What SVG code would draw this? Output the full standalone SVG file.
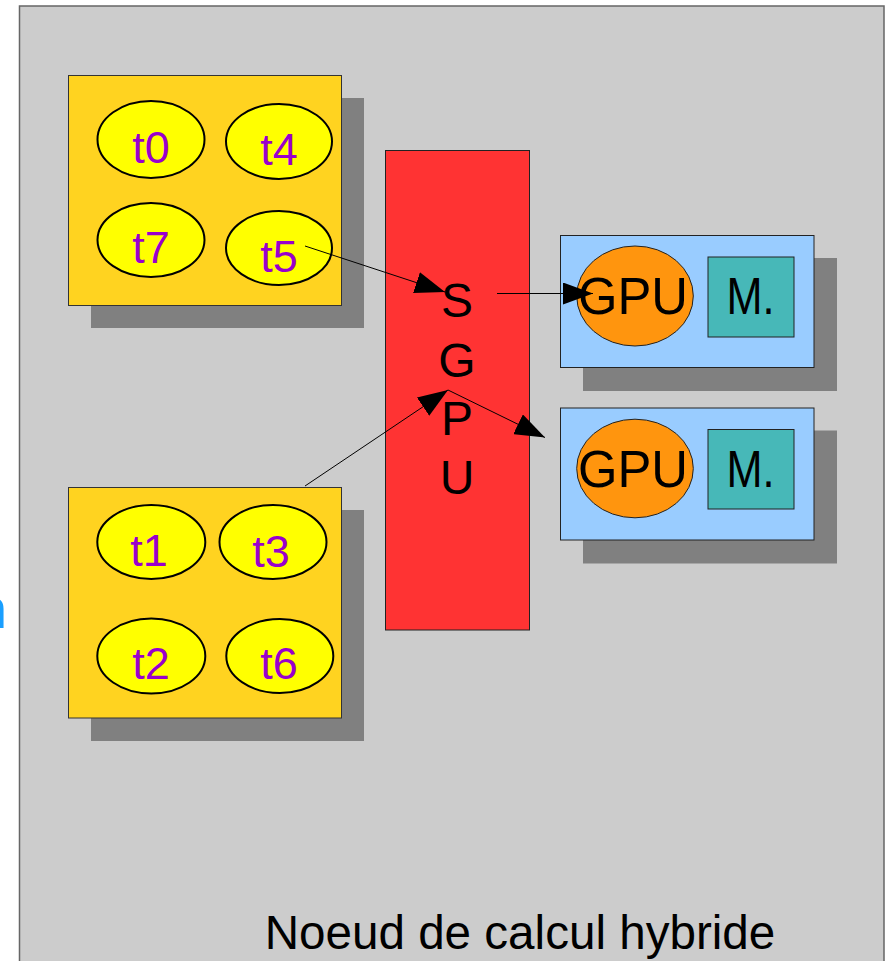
<svg xmlns="http://www.w3.org/2000/svg" width="885" height="961" viewBox="0 0 885 961">
<style>
text{font-family:"Liberation Sans",Arial,sans-serif}
.shadow{fill:#808080}
.ybox{fill:#ffd320;stroke:#333;stroke-width:1}
.task{fill:#ffff00;stroke:#000;stroke-width:2}
.tl{fill:#9900cc;font-size:45px;text-anchor:middle}
.bbox{fill:#99ccff;stroke:#222;stroke-width:1}
.gpu{fill:#ff950e;stroke:#222;stroke-width:1}
.mem{fill:#47b8b8;stroke:#222;stroke-width:1}
.bl{fill:#000;font-size:48px;text-anchor:middle}
.big{font-size:52px}
.conn{stroke:#000;stroke-width:1;fill:none;marker-end:url(#ah)}
</style>
<defs>
<marker id="ah" markerUnits="userSpaceOnUse" markerWidth="32" markerHeight="22" refX="30" refY="11" orient="auto">
<path d="M0,0 L30,11 L0,22 Z" fill="#000"/>
</marker>
</defs>
<rect x="19.5" y="6" width="864.5" height="970" fill="#cccccc" stroke="#666" stroke-width="1.5"/>
<text x="-24" y="628" font-size="56" fill="#1a9fff">n</text>
<g id="cpu1">
<rect class="shadow" x="91" y="98" width="273" height="230"/>
<rect class="ybox" x="68.5" y="75.5" width="273" height="230"/>
<ellipse class="task" cx="151" cy="139.5" rx="53.5" ry="38.5"/>
<text class="tl" x="151" y="163">t0</text>
<ellipse class="task" cx="279" cy="141.5" rx="53" ry="37.5"/>
<text class="tl" x="279" y="165">t4</text>
<ellipse class="task" cx="151" cy="240" rx="53.5" ry="37"/>
<text class="tl" x="151" y="263">t7</text>
<ellipse class="task" cx="279" cy="248" rx="53" ry="37"/>
<text class="tl" x="279" y="272">t5</text>
</g>
<g id="cpu2">
<rect class="shadow" x="91" y="510" width="273" height="231"/>
<rect class="ybox" x="68.5" y="487.5" width="273" height="230.5"/>
<ellipse class="task" cx="151.3" cy="542" rx="54" ry="37"/>
<text class="tl" x="149" y="566">t1</text>
<ellipse class="task" cx="273" cy="542" rx="53.5" ry="37"/>
<text class="tl" x="271" y="566.5">t3</text>
<ellipse class="task" cx="151.3" cy="656" rx="54" ry="37.5"/>
<text class="tl" x="151" y="679">t2</text>
<ellipse class="task" cx="279.8" cy="656" rx="53.5" ry="37"/>
<text class="tl" x="279" y="679">t6</text>
</g>
<g id="sgpu">
<rect x="385.5" y="150.5" width="144" height="479.5" fill="#ff3333" stroke="#222" stroke-width="1"/>
<text class="bl" x="457" y="317">S</text>
<text class="bl" x="457" y="376.5">G</text>
<text class="bl" x="457" y="435">P</text>
<text class="bl" x="457" y="494">U</text>
</g>
<g id="gpu1">
<rect class="shadow" x="583" y="258" width="254" height="133"/>
<rect class="bbox" x="560.5" y="235.5" width="253.5" height="132"/>
<ellipse class="gpu" cx="635" cy="296" rx="58.3" ry="50"/>
<text class="bl big" x="633" y="314" textLength="110" lengthAdjust="spacingAndGlyphs">GPU</text>
<rect class="mem" x="708" y="257" width="86" height="80"/>
<text class="bl big" x="750.5" y="314" textLength="48" lengthAdjust="spacingAndGlyphs">M.</text>
</g>
<g id="gpu2">
<rect class="shadow" x="583" y="430.5" width="254" height="133"/>
<rect class="bbox" x="560.5" y="408" width="253.5" height="132"/>
<ellipse class="gpu" cx="635" cy="468.5" rx="58.3" ry="49.3"/>
<text class="bl big" x="633" y="486.5" textLength="110" lengthAdjust="spacingAndGlyphs">GPU</text>
<rect class="mem" x="708" y="429.5" width="86" height="79.5"/>
<text class="bl big" x="750.5" y="486.5" textLength="48" lengthAdjust="spacingAndGlyphs">M.</text>
</g>
<text x="520" y="949" font-size="47.6" text-anchor="middle" fill="#000">Noeud de calcul hybride</text>
<g id="connectors">
<line class="conn" x1="305" y1="246" x2="445" y2="292"/>
<line class="conn" x1="497" y1="293.5" x2="593" y2="293.5"/>
<line class="conn" x1="305" y1="486" x2="448" y2="390"/>
<line class="conn" x1="448" y1="390" x2="545" y2="437.5"/>
</g>
</svg>
